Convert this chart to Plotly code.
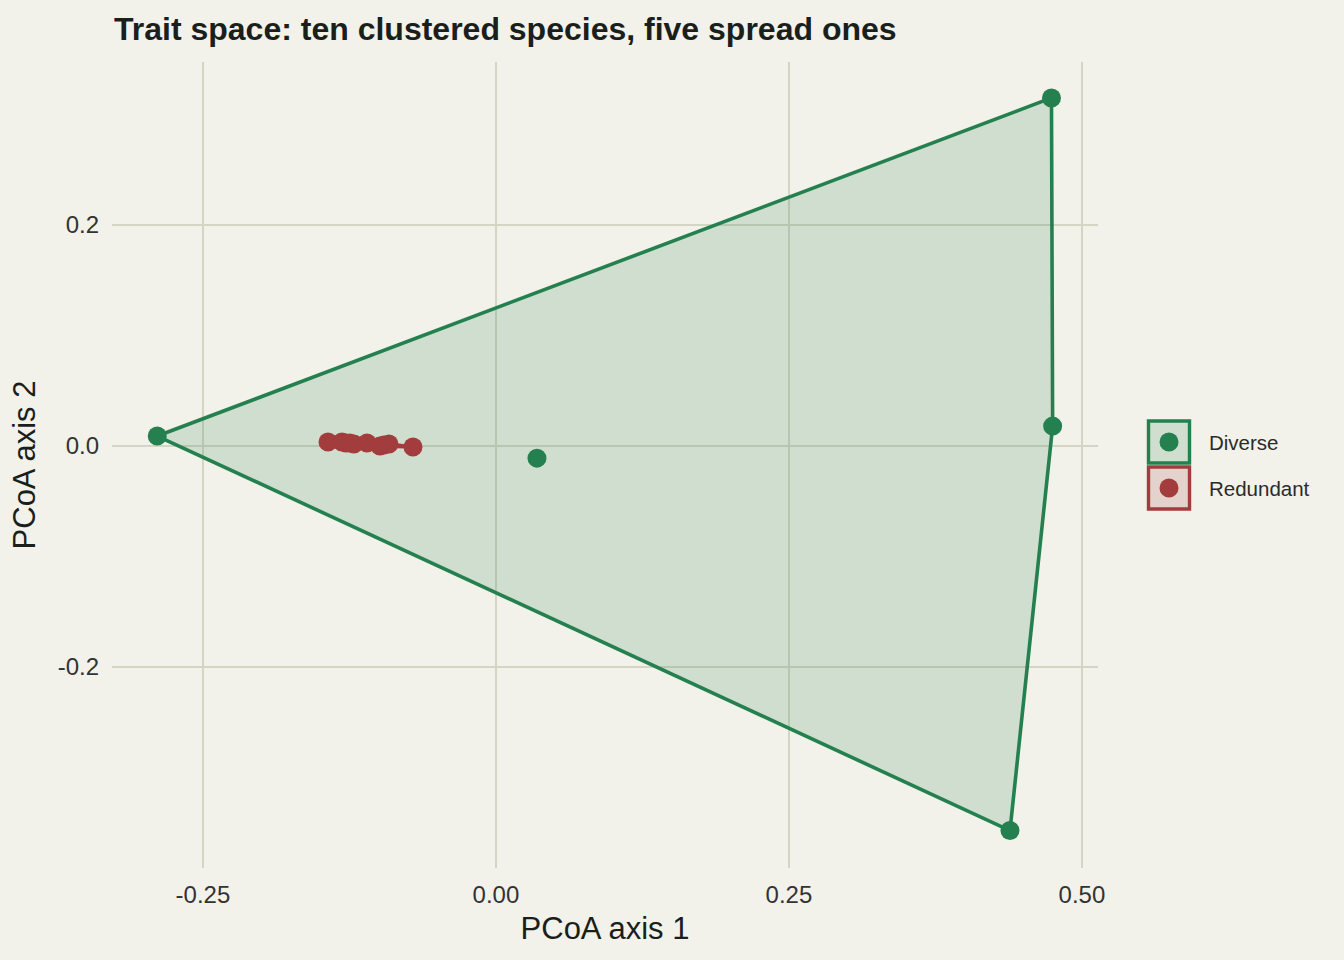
import numpy as np
import plotly.graph_objects as go

# Data
diverse_x = [-0.289, 0.474, 0.475, 0.4386, 0.035]
diverse_y = [0.009, 0.315, 0.018, -0.348, -0.011]
redundant_x = [-0.1433, -0.1314, -0.128, -0.1246, -0.1212, -0.110, -0.099, -0.0956, -0.0913, -0.0708]
redundant_y = [0.0036, 0.0036, 0.0027, 0.0027, 0.0018, 0.0027, 0.0, 0.0009, 0.0018, -0.0009]

x_tickvals = [-0.25, 0.0, 0.25, 0.5]
x_ticktext = ["-0.25", "0.00", "0.25", "0.50"]
y_tickvals = [-0.2, 0.0, 0.2]
y_ticktext = ["-0.2", "0.0", "0.2"]

groups = [
    ("Diverse", diverse_x, diverse_y, "#24804F", "rgba(36,128,79,0.17)"),
    ("Redundant", redundant_x, redundant_y, "#A33C3C", "rgba(163,60,60,0.17)"),
]

W, H = 1344, 960
ML, MR, MT, MB = 112, 246, 62, 92


def convex_hull(xs, ys):
    pts = sorted(set(zip(xs, ys)))
    if len(pts) < 3:
        return pts

    def cross(o, a, b):
        return (a[0] - o[0]) * (b[1] - o[1]) - (a[1] - o[1]) * (b[0] - o[0])

    lower = []
    for p in pts:
        while len(lower) >= 2 and cross(lower[-2], lower[-1], p) <= 0:
            lower.pop()
        lower.append(p)
    upper = []
    for p in reversed(pts):
        while len(upper) >= 2 and cross(upper[-2], upper[-1], p) <= 0:
            upper.pop()
        upper.append(p)
    return lower[:-1] + upper[:-1]


fig = go.Figure()
for name, xs, ys, col, fillcol in groups:
    hull = convex_hull(xs, ys)
    hx = [p[0] for p in hull] + [hull[0][0]]
    hy = [p[1] for p in hull] + [hull[0][1]]
    fig.add_trace(go.Scatter(
        x=hx, y=hy, mode="lines", fill="toself", fillcolor=fillcol,
        line=dict(color=col, width=3.6),
        name=name, legendgroup=name, hoverinfo="skip", showlegend=False,
    ))
for name, xs, ys, col, fillcol in groups:
    fig.add_trace(go.Scatter(
        x=xs, y=ys, mode="markers", marker=dict(color=col, size=19),
        name=name, legendgroup=name, showlegend=False,
    ))


# Manual legend (paper coordinates from pixel positions)
def px2x(px):
    return (px - ML) / (W - ML - MR)


def py2y(py):
    return 1 - (py - MT) / (H - MT - MB)


legend_rows = [442, 488]
for (name, xs, ys, col, fillcol), cy in zip(groups, legend_rows):
    fig.add_shape(type="rect", xref="paper", yref="paper",
                  x0=px2x(1148.5), x1=px2x(1189.5), y0=py2y(cy - 21), y1=py2y(cy + 21),
                  line=dict(color=col, width=3.4), fillcolor=fillcol, layer="above")
    fig.add_shape(type="circle", xref="paper", yref="paper",
                  x0=px2x(1169 - 9.5), x1=px2x(1169 + 9.5), y0=py2y(cy - 9.5), y1=py2y(cy + 9.5),
                  line=dict(width=0), fillcolor=col, layer="above")
    fig.add_annotation(text=name, xref="paper", yref="paper", x=px2x(1207), y=py2y(cy),
                       xanchor="left", yanchor="middle", showarrow=False,
                       font=dict(size=20.5, color="#2B2B2B"))

grid = "#D3D5C5"
fig.update_layout(
    width=W, height=H,
    paper_bgcolor="#F2F1EA", plot_bgcolor="#F2F1EA",
    margin=dict(l=ML, r=MR, t=MT, b=MB),
    font=dict(family="Liberation Sans, Arial, sans-serif", color="#2B2B2B"),
    title=dict(text="<b>Trait space: ten clustered species, five spread ones</b>",
               x=114 / W, xanchor="left", y=1 - 29 / H, yanchor="middle",
               font=dict(size=32, color="#1A1F1C")),
    xaxis=dict(range=[-0.3276, 0.5137], tickvals=x_tickvals, ticktext=x_ticktext,
               showgrid=True, gridcolor=grid, gridwidth=1.6, zeroline=False,
               showline=False, ticks="", tickfont=dict(size=24, color="#333333"),
               ticklabelstandoff=10,
               title=dict(text="PCoA axis 1", font=dict(size=31, color="#1A1F1C"), standoff=10)),
    yaxis=dict(range=[-0.3819, 0.3475], tickvals=y_tickvals, ticktext=y_ticktext,
               showgrid=True, gridcolor=grid, gridwidth=1.6, zeroline=False,
               showline=False, ticks="", tickfont=dict(size=24, color="#333333"),
               ticklabelstandoff=12,
               title=dict(text="PCoA axis 2", font=dict(size=31, color="#1A1F1C"), standoff=12)),
    showlegend=False,
)

fig.write_html("out.html")
